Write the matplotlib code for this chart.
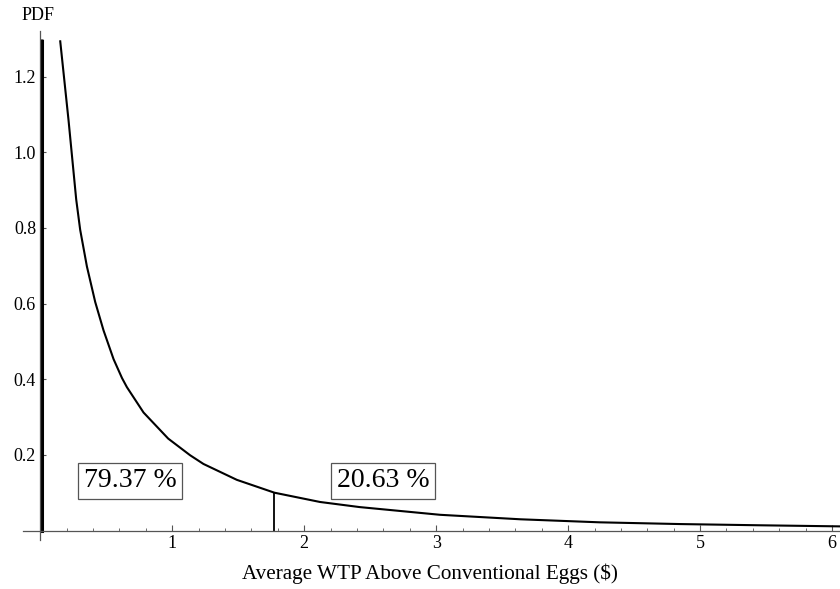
import numpy as np
import matplotlib
matplotlib.use('Agg')
import matplotlib.pyplot as plt
from matplotlib.ticker import MultipleLocator

plt.rcParams['font.family'] = ['Liberation Serif', 'DejaVu Serif']

# curve
pdf_x = [0.152, 0.215, 0.273, 0.303, 0.354, 0.417, 0.480, 0.556, 0.620, 0.657, 0.783,
         0.970, 1.136, 1.237, 1.490, 1.775, 2.120, 2.420, 3.030, 3.640, 4.240,
         4.850, 5.450, 6.060]
pdf_y = [1.293, 1.084, 0.875, 0.795, 0.698, 0.604, 0.529, 0.453, 0.403, 0.379, 0.312,
         0.243, 0.199, 0.176, 0.134, 0.100, 0.0755, 0.062, 0.0416, 0.0297, 0.0217,
         0.0171, 0.0139, 0.011]
spike_x = 0.012
spike_top = 1.295
split_x = 1.77
split_y = 0.100
share_labels = ['79.37 %', '20.63 %']
share_x = [0.68, 2.60]
share_y = [0.131, 0.131]
x_ticks = [1, 2, 3, 4, 5, 6]
y_ticks = [0.2, 0.4, 0.6, 0.8, 1.0, 1.2]

fig = plt.figure(figsize=(8.4, 5.89), dpi=100)
ax = fig.add_axes([0.0274, 0.0832, 0.9726, 0.864])

ax.plot(pdf_x, pdf_y, color='black', lw=1.5, solid_joinstyle='round')
ax.plot([spike_x, spike_x], [0, spike_top], color='black', lw=2.2)
ax.plot([split_x, split_x], [0, split_y], color='black', lw=1.3)

for lab, tx, ty in zip(share_labels, share_x, share_y):
    ax.text(tx, ty, lab, fontsize=20, ha='center', va='center',
            bbox=dict(boxstyle='square,pad=0.2', fc='white', ec='#555555', lw=0.9))

ax.set_xlim(-0.13, 6.06)
ax.set_ylim(-0.025, 1.32)

for s in ['top', 'right']:
    ax.spines[s].set_visible(False)
ax.spines['left'].set_position(('data', 0))
ax.spines['bottom'].set_position(('data', 0))
for s in ['left', 'bottom']:
    ax.spines[s].set_color('#555555')
    ax.spines[s].set_linewidth(0.9)

ax.set_xticks(x_ticks)
ax.set_yticks(y_ticks)
ax.set_xticklabels([str(t) for t in x_ticks])
ax.set_yticklabels(['%.1f' % t for t in y_ticks])
ax.xaxis.set_minor_locator(MultipleLocator(0.2))
ax.yaxis.set_minor_locator(MultipleLocator(0.05))
ax.tick_params(which='major', direction='in', length=4, width=0.8, color='#555555',
               labelsize=13, pad=3)
ax.tick_params(which='minor', direction='in', length=2.5, width=0.6, color='#555555')

fig.text(38 / 840, 1 - 15 / 589, 'PDF', fontsize=13, ha='center', va='center')
fig.text(430 / 840, 1 - 574 / 589, 'Average WTP Above Conventional Eggs ($)',
         fontsize=15.2, ha='center', va='center')

fig.savefig('out.png', dpi=100)
